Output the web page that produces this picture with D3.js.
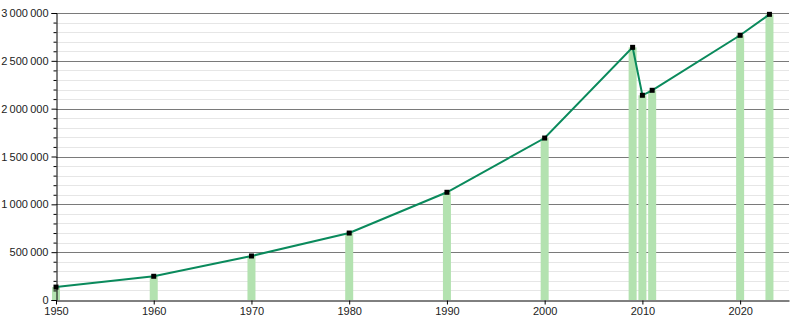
<!DOCTYPE html>
<html lang="en">

<head>
  <meta charset="UTF-8">
  <title>Population</title>
  <style>
    body { margin: 0; background: #fff; }
    text { font-family: 'Liberation Sans', Arial, sans-serif; }
  </style>
</head>

<body>
  <svg id="svg" width="800" height="320"></svg>

  <script src="https://d3js.org/d3.v7.min.js"></script>
  <script>
    const years = [1950, 1960, 1970, 1980, 1990, 2000, 2009, 2010, 2011, 2020, 2023]
    const population = [135000, 248000, 460000, 700000, 1126000, 1693000, 2641000, 2140000, 2192000, 2767000, 2986000]
    const xTicks = [1950, 1960, 1970, 1980, 1990, 2000, 2010, 2020]
    const yTicks = [0, 500000, 1000000, 1500000, 2000000, 2500000, 3000000]

    const data = years.map((y, i) => ({ year: y, value: population[i] }))

    const svg = d3.select('#svg')

    const xScale = d3.scaleLinear()
      .domain([1950, 2025])
      .range([56, 789])

    const yScale = d3.scaleLinear()
      .domain([0, 3000000])
      .range([300, 13])

    // number format with thin spaces as thousands separator
    const fmt = d3.formatLocale({ decimal: '.', thousands: '\u2009', grouping: [3], currency: ['', ''] }).format(',d')

    // minor grid every 100 000
    const minor = d3.range(0, 3000001, 100000).filter(v => v % 500000 !== 0)
    svg.append('g')
      .selectAll('line')
      .data(minor)
      .enter()
      .append('line')
      .attr('x1', 56)
      .attr('x2', 789)
      .attr('y1', d => Math.round(yScale(d)) + 0.5)
      .attr('y2', d => Math.round(yScale(d)) + 0.5)
      .attr('stroke', '#e6e6e6')

    // major grid
    svg.append('g')
      .selectAll('line')
      .data(yTicks.slice(1))
      .enter()
      .append('line')
      .attr('x1', 56)
      .attr('x2', 789)
      .attr('y1', d => Math.round(yScale(d)) + 0.5)
      .attr('y2', d => Math.round(yScale(d)) + 0.5)
      .attr('stroke', '#7a7a7a')

    // bars
    svg.append('g')
      .selectAll('rect')
      .data(data)
      .enter()
      .append('rect')
      .attr('x', d => xScale(d.year) - 4)
      .attr('width', 8)
      .attr('y', d => yScale(d.value))
      .attr('height', d => yScale(0) - yScale(d.value))
      .attr('fill', '#b3e2b0')

    // line
    svg.append('path')
      .datum(data)
      .attr('d', d3.line().x(d => xScale(d.year)).y(d => yScale(d.value)))
      .attr('fill', 'none')
      .attr('stroke', '#0a8a5c')
      .attr('stroke-width', 2)

    // markers
    svg.append('g')
      .selectAll('rect')
      .data(data)
      .enter()
      .append('rect')
      .attr('x', d => xScale(d.year) - 2.5)
      .attr('y', d => yScale(d.value) - 2.5)
      .attr('width', 5)
      .attr('height', 5)
      .attr('fill', '#000')

    // y axis
    const yAxis = svg.append('g')
      .attr('transform', 'translate(56.5,0)')
      .call(d3.axisLeft(yScale).tickValues(yTicks).tickFormat(fmt).tickSize(5).tickPadding(3))
    yAxis.selectAll('text').style('font-size', '11px').attr('fill', '#222')

    svg.append('g')
      .attr('transform', 'translate(56.5,0)')
      .call(d3.axisLeft(yScale).tickValues(minor).tickFormat('').tickSize(3))
      .select('.domain').remove()

    // x axis
    const xAxis = svg.append('g')
      .attr('transform', 'translate(0,300.5)')
      .call(d3.axisBottom(xScale).tickValues(xTicks).tickFormat(d3.format('d')).tickSize(4).tickPadding(3).tickSizeOuter(0))
    xAxis.selectAll('text').style('font-size', '11px').attr('fill', '#222')
  </script>

</body>

</html>
